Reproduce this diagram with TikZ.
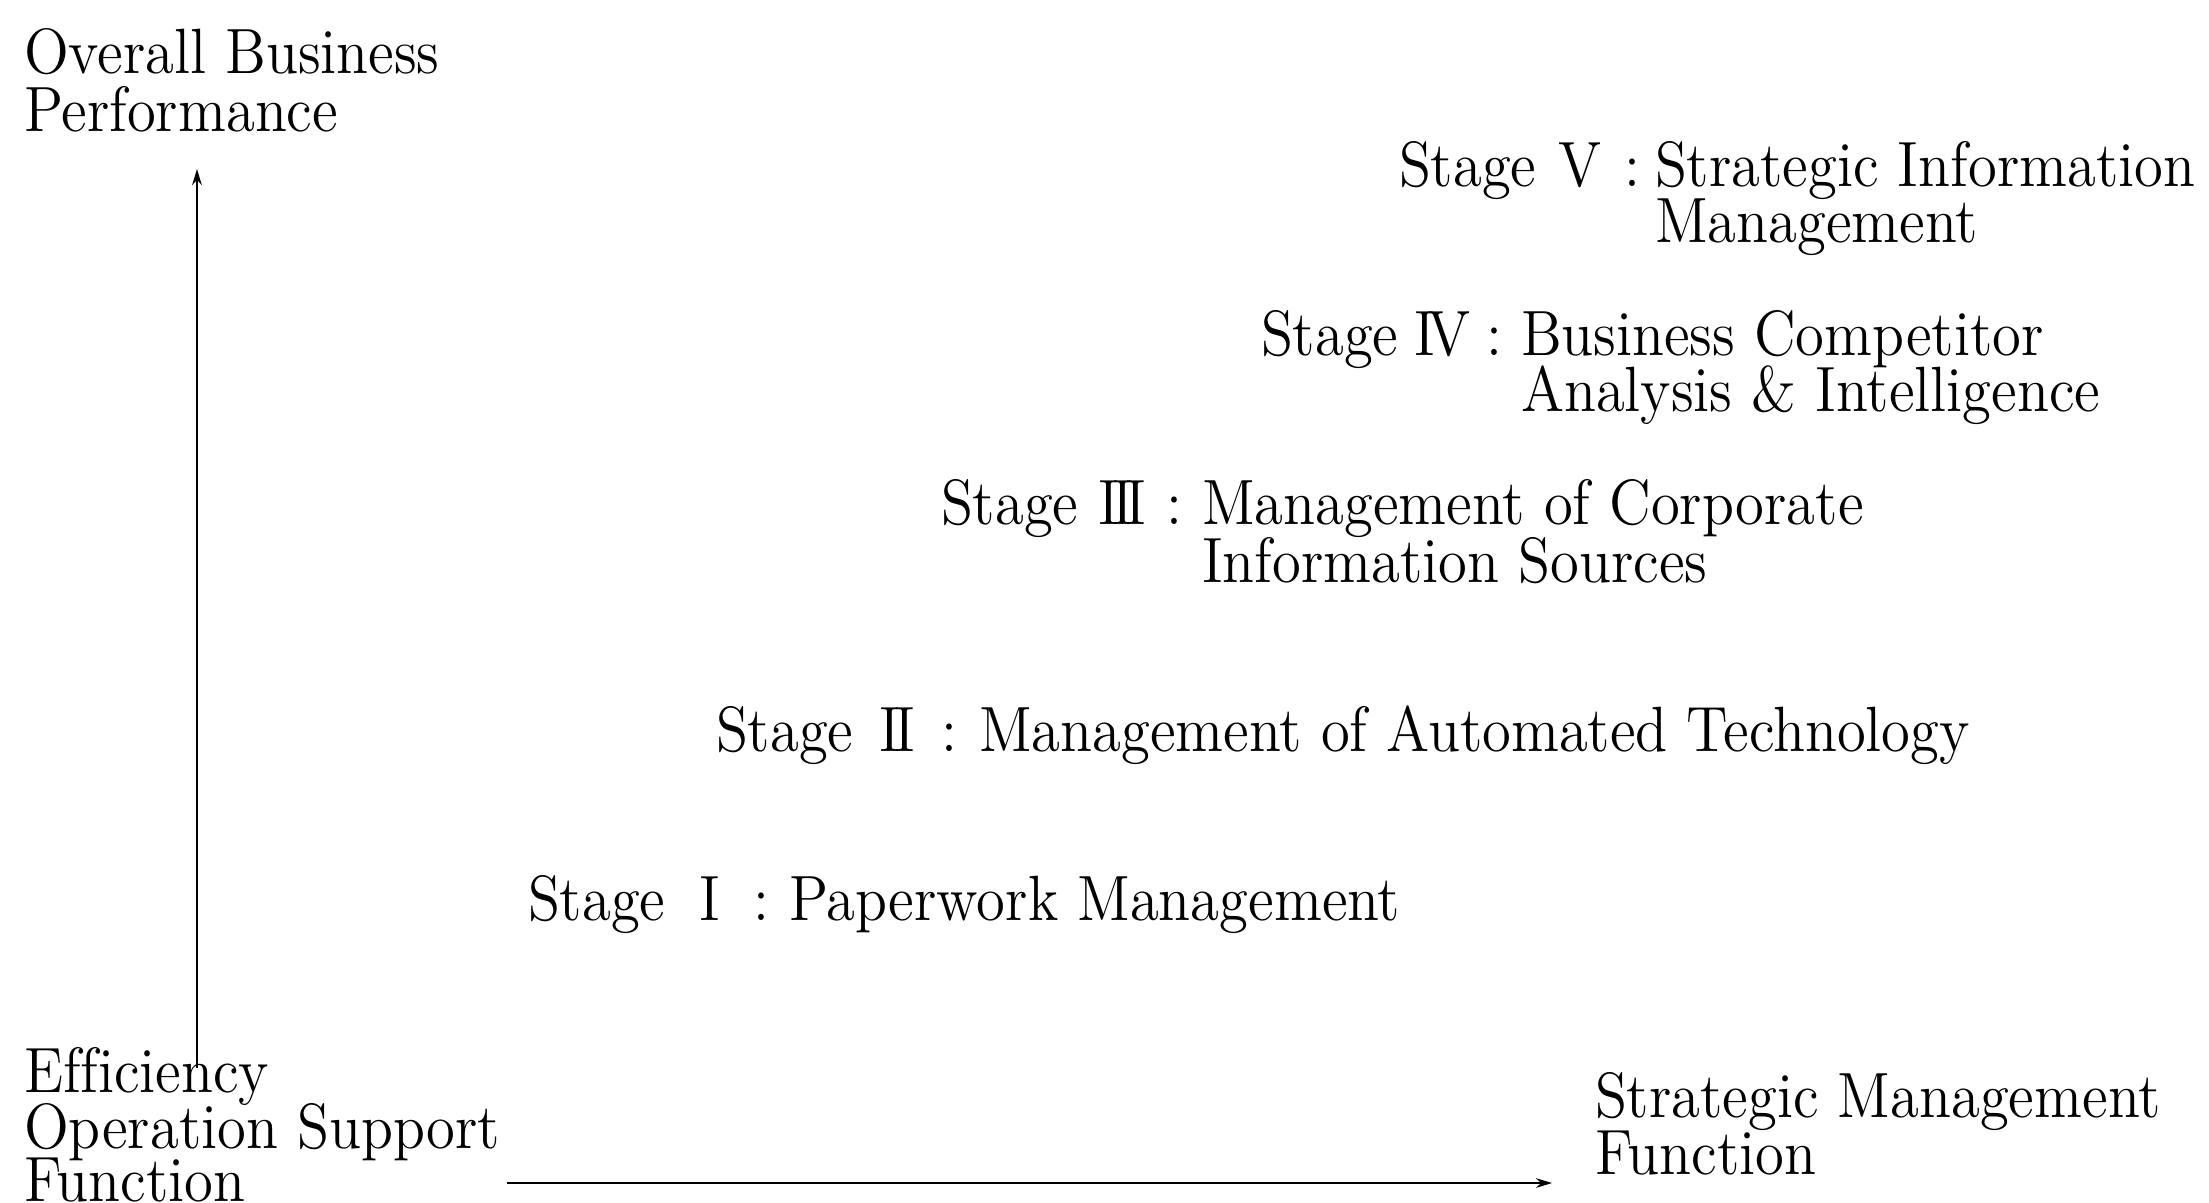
\documentclass[tikz,border=0pt]{standalone}
\usepackage{fontspec}
\setmainfont{lmroman12-regular.otf}[FakeStretch=0.918, Ligatures=NoCommon]
\usetikzlibrary{arrows.meta}

% stage label: "Stage", numeral centred in a fixed cell, colon
\newcommand{\stagelbl}[1]{Stage\makebox[22pt][c]{#1}:}

\begin{document}
\begin{tikzpicture}[x=0.25pt,y=-0.25pt,
  txt/.style={anchor=base west, inner sep=0pt, outer sep=0pt,
              font=\fontsize{16}{14}\selectfont},
  axis/.style={line width=0.55pt, -{Stealth[length=4pt,width=2.4pt]}}]
\useasboundingbox (0,0) rectangle (2209,1202);

% vertical axis and its labels
\node[txt] (ytop1) at (24,73)  {Overall Business};
\node[txt] (ytop2) at (24,131) {Performance};
\node[txt] (ybot1) at (24,1092) {Efficiency};
\node[txt] (ybot2) at (24,1148) {Operation Support};
\node[txt] (ybot3) at (24,1201) {Function};

% horizontal axis label
\node[txt] (xlab1) at (1595,1117) {Strategic Management};
\node[txt] (xlab2) at (1595,1174) {Function};

% stages
\node[txt] (s5)  at (1399,186) {\stagelbl{V}};
\node[txt] (s5a) at (1655,186) {Strategic Information};
\node[txt] (s5b) at (1655,242) {Management};

\node[txt] (s4)  at (1261,355) {\stagelbl{I\kern-2pt V}};
\node[txt] (s4a) at (1521,355) {Business Competitor};
\node[txt] (s4b) at (1521,411) {Analysis \& Intelligence};

\node[txt] (s3)  at (941,524) {\stagelbl{I\kern-1.8pt I\kern-1.8pt I}};
\node[txt] (s3a) at (1202,524) {Management of Corporate};
\node[txt] (s3b) at (1202,582) {Information Sources};

\node[txt] (s2)  at (716,751) {\stagelbl{I\kern-1.5pt I}};
\node[txt] (s2a) at (979,751) {Management of Automated Technology};

\node[txt] (s1)  at (528,920) {\stagelbl{I}};
\node[txt] (s1a) at (789,920) {Paperwork Management};

% axes
\coordinate (vfrom) at (197,1068);
\coordinate (vto)   at (197,169);
\coordinate (hfrom) at (507,1183);
\coordinate (hto)   at (1552,1183);
\draw[axis] (vfrom) -- (vto);
\draw[axis] (hfrom) -- (hto);
\end{tikzpicture}
\end{document}
